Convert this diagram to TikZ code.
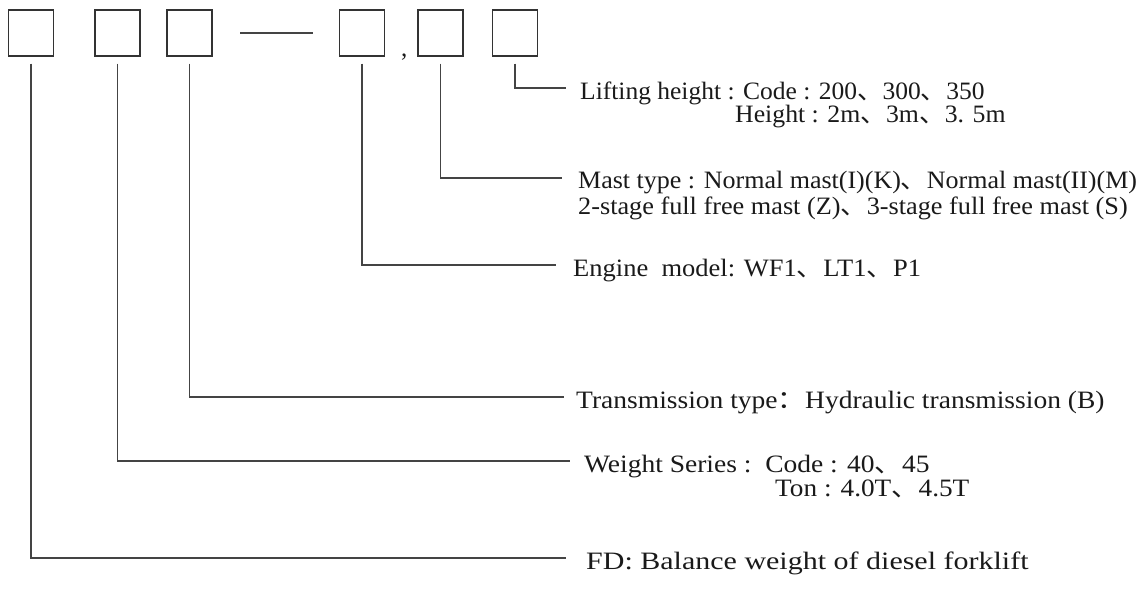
\documentclass[tikz,border=0pt]{standalone}
\usepackage{fontspec}
\usepackage{graphicx}
\setmainfont{Liberation Serif}
\newfontfamily\cjkfont{Noto Sans CJK SC}
\newcommand\dn{{\cjkfont 、}}
\newcommand\fcolon{{\cjkfont ：}}
\newcommand\hs[2]{\scalebox{#1}[1]{#2}}
\definecolor{boxgray}{HTML}{333333}
\definecolor{linegray}{HTML}{444444}
\definecolor{textblack}{HTML}{1A1A1A}
\begin{document}
\begin{tikzpicture}[x=1pt,y=-1pt,
  cell/.style={draw=boxgray, line width=1.3pt, minimum width=45pt, minimum height=46pt, inner sep=0pt},
  conn/.style={draw=linegray, line width=1.3pt, shorten <=7pt},
  lab/.style={anchor=base west, inner sep=0pt, font=\fontsize{25}{27}\selectfont, text=textblack}]
\useasboundingbox[fill=white] (0,0) rectangle (1145,598);

% code boxes
\node[cell] (b1) at (31,33) {};
\node[cell] (b2) at (117.5,33) {};
\node[cell] (b3) at (189.5,33) {};
\node[cell] (b4) at (362,33) {};
\node[cell] (b5) at (440.5,33) {};
\node[cell] (b6) at (515,33) {};

% dash and comma
\coordinate (d1) at (240,33);
\coordinate (d2) at (313,33);
\draw[draw=linegray, line width=1.3pt] (d1) -- (d2);
\node[lab] (comma) at (401,56) {,};

% connector end points
\coordinate (e6) at (566,88);
\coordinate (e5) at (562,178);
\coordinate (e4) at (556,265);
\coordinate (e3) at (564,397);
\coordinate (e2) at (570,461);
\coordinate (e1) at (566,558);

\draw[conn] (b6.south) |- (e6);
\draw[conn] (b5.south) |- (e5);
\draw[conn] (b4.south) |- (e4);
\draw[conn] (b3.south) |- (e3);
\draw[conn] (b2.south) |- (e2);
\draw[conn] (b1.south) |- (e1);

% labels
\node[lab] (t6a) at (580,99) {\hs{1.02}{Lifting height : Code : 200\dn300\dn350}};
\node[lab] (t6b) at (735,122) {\hs{1.03}{Height : 2m\dn3m\dn3. 5m}};
\node[lab] (t5a) at (578,188) {\hs{1.04}{Mast type : Normal mast(I)(K)\dn Normal mast(II)(M)}};
\node[lab] (t5b) at (578,214) {\hs{1.05}{2-stage full free mast (Z)\dn3-stage full free mast (S)}};
\node[lab] (t4) at (573,276) {\hs{1.06}{Engine\ \ model: WF1\dn LT1\dn P1}};
\node[lab] (t3) at (576,408) {\hs{1.10}{Transmission type\fcolon Hydraulic transmission (B)}};
\node[lab] (t2a) at (584,472) {\hs{1.10}{Weight Series :\ \ Code : 40\dn45}};
\node[lab] (t2b) at (775,496) {\hs{1.09}{Ton : 4.0T\dn4.5T}};
\node[lab] (t1) at (586,569) {\hs{1.20}{FD: Balance weight of diesel forklift}};
\end{tikzpicture}
\end{document}
